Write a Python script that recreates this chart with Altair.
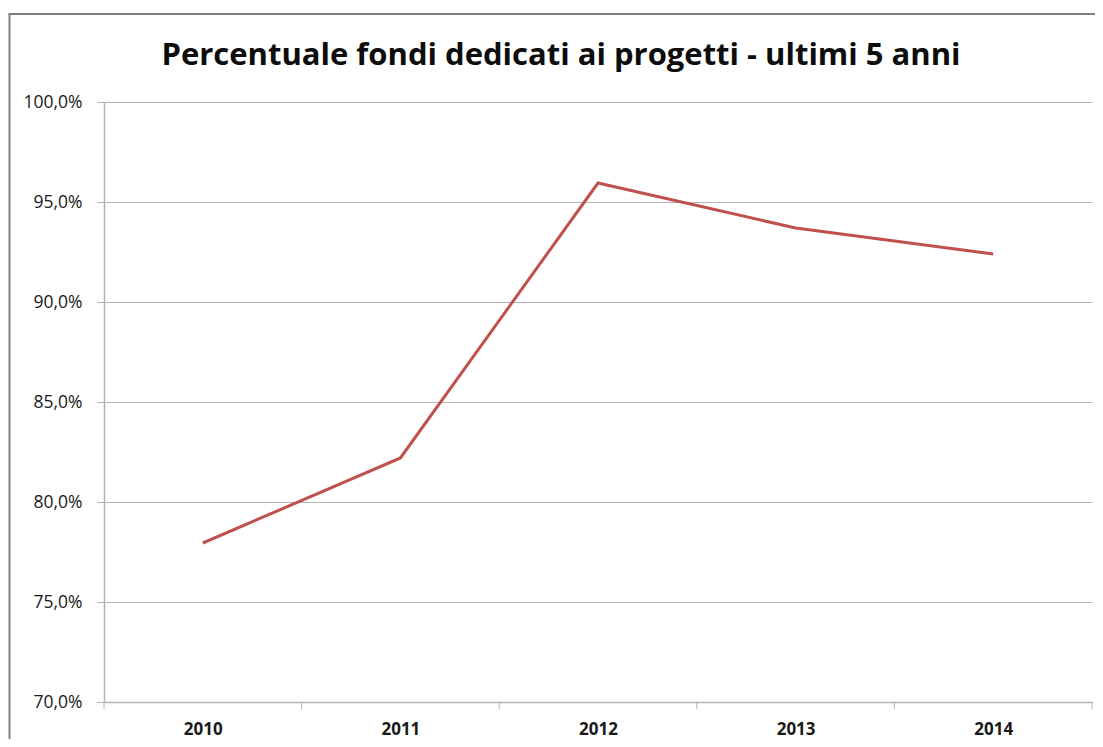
import altair as alt
import pandas as pd

years = [2010, 2011, 2012, 2013, 2014]
values = [77.95, 82.2, 95.95, 93.7, 92.4]
tick_bounds = [2009.5, 2010.5, 2011.5, 2012.5, 2013.5, 2014.5]
y_ticks = [70, 75, 80, 85, 90, 95, 100]

FONT = "Open Sans"
GRID = "#b4b4b4"

df = pd.DataFrame({"anno": years, "valore": values})
tb = pd.DataFrame({"b": tick_bounds})
one = pd.DataFrame({"k": [0]})

xscale = alt.Scale(domain=[2009.5, 2014.5], nice=False, zero=False)
yscale = alt.Scale(domain=[70, 100], nice=False, zero=False)

line = alt.Chart(df).mark_line(color="#c0504d", strokeWidth=3).encode(
    x=alt.X("anno:Q", scale=xscale, title=None,
            axis=alt.Axis(values=years, format="d", ticks=False, grid=False,
                          domain=True, domainColor=GRID, domainWidth=1.5,
                          labelFont=FONT, labelFontSize=17, labelFontWeight="bold",
                          labelColor="#1a1a1a", labelPadding=19)),
    y=alt.Y("valore:Q", scale=yscale, title=None,
            axis=alt.Axis(values=y_ticks, grid=True, gridColor=GRID, gridWidth=1,
                          domain=True, domainColor=GRID, domainWidth=1.5,
                          tickSize=7, tickColor=GRID, labelPadding=15,
                          labelFont=FONT, labelFontSize=17.5, labelColor="#1a1a1a",
                          labelExpr="replace(format(datum.value, '.1f'), '.', ',') + '%'")),
)

ticks = alt.Chart(tb).mark_rule(color=GRID, strokeWidth=1).encode(
    x=alt.X("b:Q", scale=xscale),
    y=alt.value(600), y2=alt.value(607),
)

frame_left = alt.Chart(one).mark_rule(color="#808080", strokeWidth=2).encode(
    x=alt.value(-94.5), y=alt.value(-88), y2=alt.value(660))
frame_top = alt.Chart(one).mark_rule(color="#808080", strokeWidth=2).encode(
    x=alt.value(-95.5), x2=alt.value(1010), y=alt.value(-88))

chart = alt.layer(frame_left, frame_top, ticks, line).properties(
    width=988, height=600,
    autosize=alt.AutoSizeParams(type="none"),
    padding={"left": 96, "top": 94, "right": 3, "bottom": 37},
    title=alt.TitleParams(
        "Percentuale fondi dedicati ai progetti - ultimi 5 anni",
        font=FONT, fontSize=31, fontWeight="bold", color="#0d0d0d",
        anchor="middle", frame="group", dx=-37, offset=30, dy=89,
    ),
).configure_view(stroke=None)

chart.save("out.html", embed_options={"renderer": "svg", "actions": False})
